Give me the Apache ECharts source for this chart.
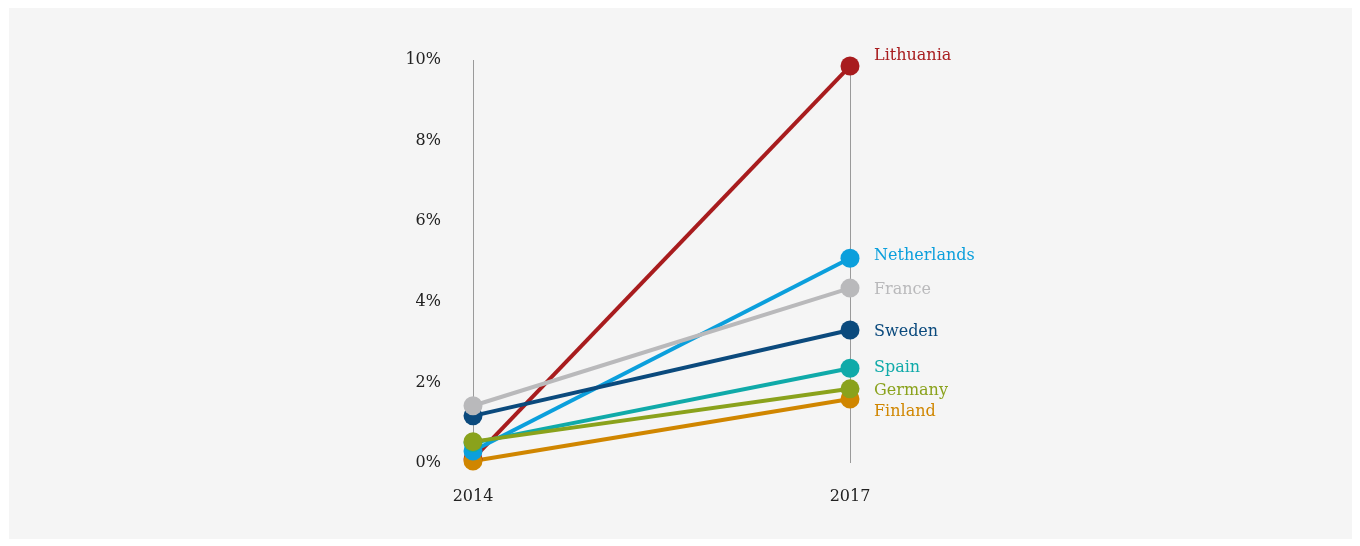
<!DOCTYPE html>
<html>
<head>
<meta charset="utf-8">
<script src="https://cdn.jsdelivr.net/npm/echarts@6/dist/echarts.min.js"></script>
<style>
  html, body { margin: 0; padding: 0; background: #ffffff; }
  #panel { position: absolute; left: 9px; top: 8px; width: 1343px; height: 531px; background: #f5f5f5; }
  #chart { position: absolute; left: 0; top: 0; width: 1360px; height: 546px; }
</style>
</head>
<body>
<div id="panel"></div>
<div id="chart"></div>
<script>
// Years compared
const years = ['2014', '2017'];

// Share (%) per country in each year
const lithuania   = [0.1, 9.85];
const netherlands = [0.3, 5.08];
const france      = [1.42, 4.34];
const sweden      = [1.17, 3.3];
const spain       = [0.5, 2.35];
const germany     = [0.53, 1.84];
const finland     = [0.05, 1.59];

// Y-axis tick values
const yTicks = [0, 2, 4, 6, 8, 10];

const countries = [
  { name: 'Lithuania',   data: lithuania,   color: '#a81c1e', dy: -10 },
  { name: 'Finland',     data: finland,     color: '#d08600', dy: 13 },
  { name: 'Netherlands', data: netherlands, color: '#0b9fdc', dy: -2 },
  { name: 'Spain',       data: spain,       color: '#10aaa9', dy: 0 },
  { name: 'Germany',     data: germany,     color: '#8aa21c', dy: 2 },
  { name: 'Sweden',      data: sweden,      color: '#0b4a7d', dy: 2 },
  { name: 'France',      data: france,      color: '#b9b9bb', dy: 2 }
];

const font = '"DejaVu Serif", "Liberation Serif", serif';

const chart = echarts.init(document.getElementById('chart'), null, { renderer: 'canvas' });

chart.setOption({
  animation: false,
  backgroundColor: 'transparent',
  grid: { left: 473, right: 510, top: 60, bottom: 83, containLabel: false },
  xAxis: {
    type: 'category',
    data: years,
    boundaryGap: false,
    axisLine: { show: false },
    axisTick: { show: false },
    axisLabel: { margin: 26, color: '#222', fontFamily: font, fontSize: 16 },
    splitLine: { show: true, lineStyle: { color: '#9a9a9a', width: 1 } }
  },
  yAxis: {
    type: 'value',
    min: yTicks[0],
    max: yTicks[yTicks.length - 1],
    interval: 2,
    axisLine: { show: false },
    axisTick: { show: false },
    splitLine: { show: false },
    axisLabel: {
      margin: 32,
      color: '#222',
      fontFamily: font,
      fontSize: 16,
      formatter: v => v + '%'
    }
  },
  series: countries.map(c => ({
    name: c.name,
    type: 'line',
    data: c.data,
    symbol: 'circle',
    symbolSize: 19,
    showSymbol: true,
    lineStyle: { color: c.color, width: 4 },
    itemStyle: { color: c.color },
    endLabel: {
      show: true,
      formatter: c.name,
      color: c.color,
      fontFamily: font,
      fontSize: 16,
      distance: 24,
      offset: [0, c.dy]
    },
    emphasis: { disabled: true }
  }))
});
</script>
</body>
</html>
